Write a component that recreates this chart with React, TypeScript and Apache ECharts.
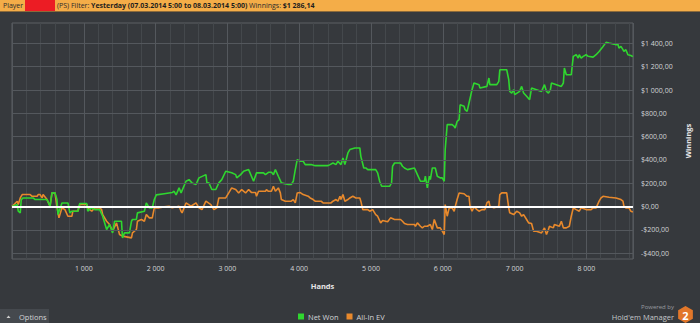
import React, { useEffect, useRef } from "react";
import * as echarts from "echarts";

// ---------- data ----------
const netWonHands = [0,73,87,115,129,156,295,322,488,530,557,599,626,640,696,779,806,834,917,944,1041,1055,1111,1152,1221,1263,1318,1359,1401,1429,1525,1539,1567,1636,1664,1678,1733,1747,1844,1871,1913,1954,1982,2010,2120,2231,2258,2286,2327,2355,2424,2466,2507,2563,2604,2701,2715,2743,2784,2839,2881,2922,2977,3060,3116,3130,3185,3226,3296,3365,3406,3503,3531,3572,3614,3641,3669,3710,3752,3849,3890,3918,3946,3973,4015,4056,4084,4167,4222,4402,4430,4471,4513,4540,4582,4610,4637,4679,4706,4776,4845,4859,4900,4928,4955,5066,5093,5121,5149,5260,5287,5301,5329,5412,5439,5467,5509,5606,5647,5689,5744,5758,5785,5813,5827,5855,5896,5924,5965,5993,6021,6034,6062,6131,6159,6173,6200,6228,6242,6297,6311,6339,6366,6408,6435,6505,6518,6615,6643,6656,6753,6781,6795,6891,6919,6933,6960,6988,7002,7071,7099,7126,7168,7210,7237,7306,7376,7417,7445,7472,7500,7514,7652,7680,7694,7721,7790,7818,7859,7887,7901,7928,7956,7997,8025,8094,8136,8178,8233,8274,8316,8385,8413,8440,8454,8482,8510,8523,8551,8579,8620,8648];
const netWonValues = [0,17,-40,-54,60,74,74,60,60,3,117,117,60,-69,31,31,-54,-40,-40,26,26,-40,-10,-26,-26,-83,-197,-154,-226,-126,-126,-269,-226,-226,-126,-111,-111,-54,-40,31,-11,-11,60,100,110,120,131,100,160,117,217,231,203,189,246,274,203,203,146,146,203,231,303,290,274,246,274,303,317,217,289,289,274,294,294,274,317,260,203,189,189,217,317,403,389,389,360,360,351,351,360,374,360,389,360,417,360,460,489,503,503,431,331,331,317,317,289,217,174,174,203,346,374,374,346,331,317,331,274,217,217,260,160,260,231,331,331,260,246,246,217,489,703,703,689,674,731,746,874,860,831,817,889,1003,1060,1046,1017,1031,1103,1046,1046,1074,1174,1174,1089,988,974,1003,960,988,1031,974,946,917,1017,1003,988,1046,988,974,1003,1060,1031,1060,1189,1131,1131,1289,1303,1274,1303,1274,1289,1303,1289,1282,1303,1331,1374,1409,1403,1394,1389,1394,1360,1374,1346,1331,1346,1303,1296,1286];

const allInHands = [0,73,87,115,142,253,281,350,364,391,419,433,488,530,557,599,626,654,696,737,779,834,848,917,944,1041,1055,1111,1152,1221,1249,1263,1318,1359,1401,1456,1498,1539,1594,1664,1678,1733,1747,1802,1844,1871,1913,1954,1982,2051,2120,2189,2231,2327,2355,2369,2424,2493,2563,2604,2646,2701,2770,2812,2853,2881,2977,3019,3060,3116,3157,3199,3254,3296,3337,3392,3406,3434,3531,3544,3572,3614,3641,3669,3710,3738,3752,3807,3890,3918,3946,3973,4015,4056,4125,4153,4195,4222,4305,4333,4444,4471,4513,4540,4568,4582,4610,4637,4679,4706,4748,4790,4845,4859,4886,4955,4983,5024,5066,5093,5135,5163,5232,5273,5329,5412,5439,5467,5509,5606,5619,5647,5689,5716,5744,5785,5827,5855,5882,5924,5965,5993,6021,6034,6062,6090,6131,6159,6173,6200,6228,6297,6339,6366,6380,6408,6435,6477,6505,6546,6587,6615,6643,6656,6712,6753,6781,6795,6822,6891,6919,6933,6988,7030,7071,7099,7126,7168,7196,7237,7265,7306,7376,7417,7445,7472,7486,7541,7555,7624,7652,7680,7721,7763,7790,7818,7859,7901,7928,7997,8066,8094,8136,8178,8205,8233,8316,8413,8482,8510,8523,8551,8593,8620,8648];
const allInValues = [0,46,17,74,103,103,88,88,103,103,74,103,60,3,117,117,0,-97,-11,-26,-83,-83,-40,-40,17,17,-11,-40,-11,-11,-26,-69,-126,-154,-211,-140,-240,-254,-260,-269,-226,-197,-126,-111,-126,-69,-97,-97,-11,-11,-3,3,-11,3,-40,-54,31,3,31,-11,-26,46,17,-26,-11,74,74,117,160,146,117,146,117,146,120,120,88,131,131,146,131,131,174,131,160,117,60,46,46,60,31,117,120,103,89,74,60,46,46,31,31,46,60,46,88,60,103,46,60,74,88,74,74,46,-26,-26,-40,-26,-69,-83,-140,-120,-131,-97,-111,-111,-126,-146,-154,-154,-169,-140,-169,-183,-169,-169,-154,-197,-111,-183,-183,-211,-240,17,-83,-11,-11,-40,-3,60,117,110,88,88,3,-40,-3,-26,-40,-26,-26,31,46,3,-11,-3,3,103,117,117,-11,-54,-69,-40,-54,-83,-69,-111,-140,-146,-211,-211,-226,-183,-240,-197,-169,-183,-154,-169,-126,-183,-183,-169,-83,-11,-26,-40,-11,-26,-26,-11,-11,46,74,88,80,74,60,46,3,-11,-11,-40,-46];

const yTickValues = [-400, -200, 0, 200, 400, 600, 800, 1000, 1200, 1400];
const xTickStep = 1000;
const xMinorStep = 200;
const xMax = 8650;
const yMin = -450;
const yMax = 1575;
const seriesNames = ["Net Won", "All-In EV"];
const headerPlayer = "Player";
const headerRest = ["(PS) Filter: ", "Yesterday (07.03.2014 5:00 to 08.03.2014 5:00)", " Winnings: ", "$1 286,14"];

// ---------- helpers ----------
const group3 = (n: number) => String(Math.round(Math.abs(n))).replace(/\B(?=(\d{3})+(?!\d))/g, " ");
const fmtMoney = (v: number) => (v < 0 ? "-" : "") + "$" + group3(v) + ",00";

const BG = "#36393d";
const TXT = "#d2d4d6";
const FONT = "'Open Sans', 'Noto Sans', sans-serif";

export default function App() {
  const ref = useRef<HTMLDivElement>(null);
  useEffect(() => {
    document.body.style.margin = "0";
    document.body.style.background = BG;
    const chart = echarts.init(ref.current as HTMLDivElement, null, { renderer: "svg" });
    const hex = (cx: number, cy: number, r: number) => {
      const pts: number[][] = [];
      for (let i = 0; i < 6; i++) {
        const a = (Math.PI / 3) * i - Math.PI / 2;
        pts.push([cx + r * Math.cos(a), cy + r * Math.sin(a)]);
      }
      return pts;
    };
    const option: any = {
      animation: false,
      backgroundColor: BG,
      textStyle: { fontFamily: FONT },
      grid: {
        left: 12,
        top: 23,
        right: 63,
        bottom: 64,
        show: true,
        borderColor: "#5c6065",
        borderWidth: 1,
        backgroundColor: "transparent",
      },
      legend: {
        data: seriesNames,
        left: 298,
        top: 312.5,
        padding: 0,
        icon: "rect",
        itemWidth: 6,
        itemHeight: 6,
        itemGap: 8,
        textStyle: { color: TXT, fontSize: 7.5, fontFamily: FONT, padding: [0, 0, 0, -1] },
      },
      xAxis: [
        {
          type: "value",
          min: 0,
          max: xMax,
          interval: xTickStep,
          z: 1,
          axisLine: { show: false },
          axisTick: { show: false },
          axisLabel: {
            color: TXT,
            fontSize: 7,
            margin: 6,
            formatter: (v: number) => (v > 0 && v % xTickStep === 0 ? group3(v) : ""),
          },
          splitLine: { show: true, lineStyle: { color: "#54585d", width: 1 } },
          name: "Hands",
          nameLocation: "middle",
          nameGap: 23,
          nameTextStyle: { color: "#e6e6e6", fontWeight: "bold", fontSize: 7.5 },
        },
        {
          type: "value",
          min: 0,
          max: xMax,
          interval: xMinorStep,
          z: 0,
          axisLine: { show: false },
          axisTick: { show: false },
          axisLabel: { show: false },
          splitLine: { show: true, lineStyle: { color: "#44484c", width: 1 } },
        },
      ],
      yAxis: {
        type: "value",
        position: "right",
        min: yMin,
        max: yMax,
        axisLine: { show: false },
        axisTick: { show: false },
        splitLine: { show: false },
        axisLabel: {
          customValues: yTickValues,
          color: TXT,
          fontSize: 7,
          margin: 8,
          align: "left",
          formatter: (v: number) => fmtMoney(v),
        },
        name: "Winnings",
        nameLocation: "middle",
        nameRotate: 90,
        nameGap: 51,
        nameTextStyle: { color: "#e6e6e6", fontWeight: "bold", fontSize: 7.5 },
      },
      series: [
        {
          name: "gridlines",
          type: "line",
          z: 1,
          data: [[0, 0]],
          showSymbol: false,
          silent: true,
          lineStyle: { opacity: 0 },
          markLine: {
            silent: true,
            symbol: ["none", "none"],
            label: { show: false },
            lineStyle: { color: "#54585d", width: 1, type: "solid" },
            data: yTickValues.filter((v) => v !== 0).map((v) => ({ yAxis: v })),
          },
        },
        {
          name: seriesNames[1],
          type: "line",
          z: 2,
          data: allInHands.map((h, i) => [h, allInValues[i]]),
          showSymbol: false,
          color: "#e8892c",
          lineStyle: { color: "#e8892c", width: 1.6 },
        },
        {
          name: seriesNames[0],
          type: "line",
          z: 3,
          data: netWonHands.map((h, i) => [h, netWonValues[i]]),
          showSymbol: false,
          color: "#2fd62f",
          lineStyle: { color: "#2fd62f", width: 1.6 },
        },
        {
          name: "zero",
          type: "line",
          z: 5,
          data: [[0, 0]],
          showSymbol: false,
          silent: true,
          lineStyle: { opacity: 0 },
          markLine: {
            silent: true,
            symbol: ["none", "none"],
            label: { show: false },
            lineStyle: { color: "#ffffff", width: 2, type: "solid" },
            data: [{ yAxis: 0 }],
          },
        },
      ],
      graphic: [
        { type: "rect", z: 10, shape: { x: 0, y: 0, width: 700, height: 11 }, style: { fill: "#f4ad48" } },
        { type: "rect", z: 10, shape: { x: 0, y: 11, width: 700, height: 1 }, style: { fill: "#8c6a3a" } },
        { type: "rect", z: 11, shape: { x: 25, y: 0, width: 30, height: 11 }, style: { fill: "#ec1c24" } },
        {
          type: "text",
          z: 12,
          x: 3,
          y: 5.8,
          style: { text: headerPlayer, fill: "#2b2b2b", fontSize: 7, fontFamily: FONT, verticalAlign: "middle" },
        },
        {
          type: "text",
          z: 12,
          x: 57,
          y: 5.8,
          style: {
            text: `{n|${headerRest[0]}}{b|${headerRest[1]}}{n|${headerRest[2]}}{b|${headerRest[3]}}`,
            verticalAlign: "middle",
            rich: {
              n: { fill: "#2b2b2b", fontSize: 7, fontFamily: FONT },
              b: { fill: "#1e1e1e", fontSize: 7, fontFamily: FONT, fontWeight: "bold" },
            },
          },
        },
        { type: "rect", z: 10, shape: { x: 0, y: 309, width: 49, height: 14 }, style: { fill: "#45494e" } },
        {
          type: "polygon",
          z: 11,
          shape: { points: [[6.5, 318], [10.5, 318], [8.5, 315.5]] },
          style: { fill: "#cfcfcf" },
        },
        {
          type: "text",
          z: 11,
          x: 19,
          y: 316.5,
          style: { text: "Options", fill: TXT, fontSize: 7.5, fontFamily: FONT, verticalAlign: "middle" },
        },
        {
          type: "text",
          z: 11,
          x: 674,
          y: 307,
          style: { text: "Powered by", fill: "#9a9ca0", fontSize: 6, fontFamily: FONT, align: "right", verticalAlign: "middle" },
        },
        {
          type: "text",
          z: 11,
          x: 674,
          y: 316.5,
          style: { text: "Hold'em Manager", fill: "#c4c6c8", fontSize: 7.5, fontFamily: FONT, align: "right", verticalAlign: "middle" },
        },
        {
          type: "polygon",
          z: 11,
          shape: { points: hex(685.5, 314.5, 8.5) },
          style: { fill: "#e2772a" },
        },
        {
          type: "text",
          z: 12,
          x: 685.5,
          y: 315,
          style: { text: "2", fill: "#ffffff", fontSize: 11, fontWeight: "bold", fontFamily: FONT, align: "center", verticalAlign: "middle" },
        },
      ],
    };
    chart.setOption(option);
    return () => chart.dispose();
  }, []);
  return <div ref={ref} style={{ width: 700, height: 323 }} />;
}
